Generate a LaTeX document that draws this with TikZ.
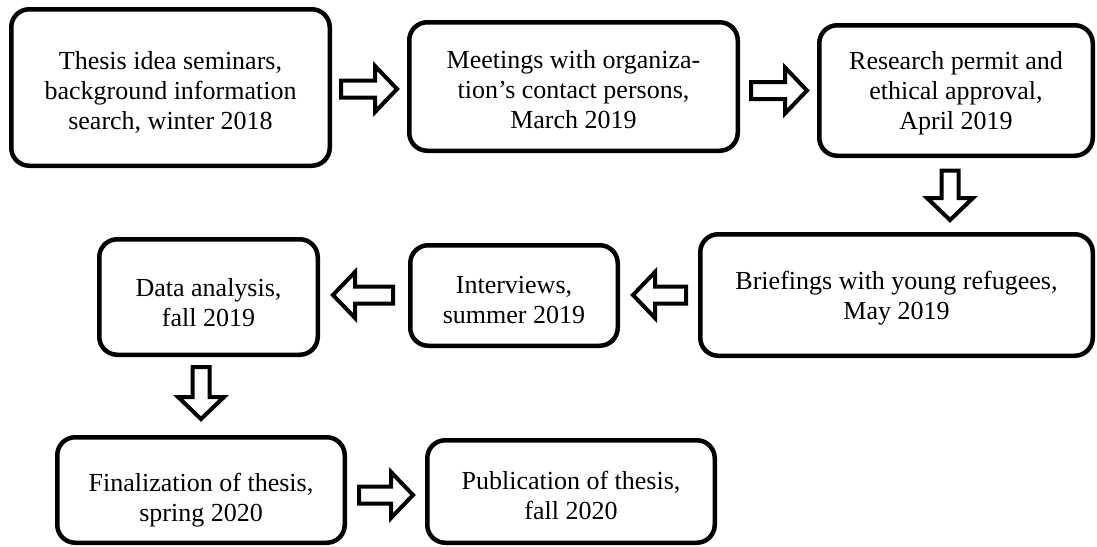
\documentclass[tikz,border=0pt]{standalone}
\usepackage{fontspec}
\setmainfont{Liberation Serif}
\usetikzlibrary{calc}
% invisible strut that moves the text block of a box down by #1
\newcommand\dropby[1]{\rule{0pt}{\dimexpr 18pt+2\dimexpr #1\relax\relax}}
\tikzset{
  stage/.style={draw, line width=4.5pt, rounded corners=18pt, align=center,
    font=\fontsize{26}{30}\selectfont, inner sep=0pt},
  blockarrow/.style={draw, line width=4pt, fill=white, line join=miter,
    to path={
      ($(\tikztostart)!8.5pt!90:(\tikztotarget)$)
      -- ($(\tikztotarget)!22pt!(\tikztostart)!8.5pt!-90:(\tikztostart)$)
      -- ($(\tikztotarget)!22pt!(\tikztostart)!23pt!-90:(\tikztostart)$)
      -- (\tikztotarget)
      -- ($(\tikztotarget)!22pt!(\tikztostart)!23pt!90:(\tikztostart)$)
      -- ($(\tikztotarget)!22pt!(\tikztostart)!8.5pt!90:(\tikztostart)$)
      -- ($(\tikztostart)!8.5pt!-90:(\tikztotarget)$)
      -- cycle}}
}
\begin{document}
\begin{tikzpicture}[x=1pt, y=-1pt]
\useasboundingbox[fill=white] (0,0) rectangle (1097,546);

\node[stage, minimum width=318.5pt, minimum height=156.5pt] (b1) at (170.5,87.5)
  {\dropby{5pt}Thesis idea seminars,\\ background information\\ search, winter 2018};
\node[stage, minimum width=328.5pt, minimum height=128.5pt] (b2) at (573.5,86.5)
  {\dropby{3pt}Meetings with organiza-\\ tion’s contact persons,\\ March 2019};
\node[stage, minimum width=273.5pt, minimum height=130.5pt] (b3) at (956,90.5)
  {\dropby{3pt}Research permit and\\ ethical approval,\\ April 2019};
\node[stage, minimum width=392.5pt, minimum height=121.5pt] (b4) at (896.5,295)
  {\dropby{3pt}Briefings with young refugees,\\ May 2019};
\node[stage, minimum width=207.5pt, minimum height=100.5pt] (b5) at (514,295.5)
  {\dropby{4pt}Interviews,\\ summer 2019};
\node[stage, minimum width=218.5pt, minimum height=115.5pt] (b6) at (208.5,297)
  {\dropby{6pt}Data analysis,\\ fall 2019};
\node[stage, minimum width=287.5pt, minimum height=105.5pt] (b7) at (201,490)
  {\dropby{10pt}Finalization of thesis,\\ spring 2020};
\node[stage, minimum width=287.5pt, minimum height=102.5pt] (b8) at (571,491.5)
  {\dropby{4pt}Publication of thesis,\\ fall 2020};

% connector end points
\coordinate (a1s) at ($(b1.east)+(9,1.5)$);
\coordinate (a1e) at ($(b2.west |- a1s)+(-10,0)$);
\coordinate (a2s) at ($(b2.east |- b3.west)+(11,0)$);
\coordinate (a2e) at ($(b3.west)+(-10,0)$);
\coordinate (a3s) at ($(b3.south)+(-6,12.5)$);
\coordinate (a3e) at ($(a3s |- b4.north)+(0,-12)$);
\coordinate (a4s) at ($(b4.west)+(-12,0)$);
\coordinate (a4e) at ($(b5.east |- a4s)+(13,0)$);
\coordinate (a5s) at ($(b5.west |- a4s)+(-15,0)$);
\coordinate (a5e) at ($(b6.east |- a4s)+(13,0)$);
\coordinate (a6s) at ($(b6.south)+(-7.5,10)$);
\coordinate (a6e) at ($(a6s |- b7.north)+(0,-16)$);
\coordinate (a7s) at ($(b7.east)+(12,5)$);
\coordinate (a7e) at ($(b8.west |- a7s)+(-12,0)$);

\path[blockarrow] (a1s) to (a1e);
\path[blockarrow] (a2s) to (a2e);
\path[blockarrow] (a3s) to (a3e);
\path[blockarrow] (a4s) to (a4e);
\path[blockarrow] (a5s) to (a5e);
\path[blockarrow] (a6s) to (a6e);
\path[blockarrow] (a7s) to (a7e);
\end{tikzpicture}
\end{document}
